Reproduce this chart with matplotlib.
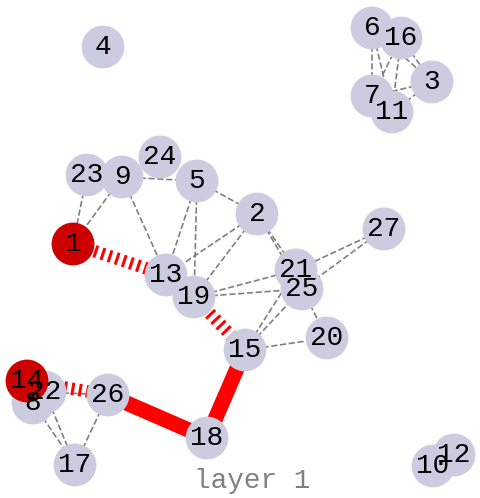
import matplotlib
matplotlib.use("Agg")
import matplotlib.pyplot as plt

# node layout (pixel positions)
nodes = ["4", "6", "16", "3", "7", "11", "23", "9", "24", "5", "2", "27", "1",
         "13", "19", "21", "25", "20", "15", "8", "22", "14", "26", "18", "17",
         "10", "12"]
node_x = [103, 372, 401, 432, 372, 392, 87, 122, 160, 197, 257, 384, 73,
          166, 194, 296, 302, 327, 245, 33, 45, 27, 108, 207, 75, 433, 454]
node_y = [47, 28, 38, 82, 96, 112, 175, 177, 157, 181, 214, 229, 244,
          275, 297, 270, 289, 338, 350, 403, 392, 381, 395, 438, 465, 466, 455]
red_nodes = ["1", "14"]

dashed_edges = [("6", "16"), ("6", "7"), ("6", "11"), ("6", "3"), ("16", "7"),
                ("16", "11"), ("16", "3"), ("3", "11"), ("3", "7"),
                ("23", "1"), ("9", "1"), ("9", "5"), ("9", "13"), ("5", "2"),
                ("5", "13"), ("5", "19"), ("2", "13"), ("2", "19"), ("2", "21"),
                ("2", "25"), ("19", "21"), ("19", "25"), ("27", "21"),
                ("27", "25"), ("15", "21"), ("15", "25"), ("15", "20"),
                ("25", "20"), ("22", "26"), ("8", "17"), ("22", "17"),
                ("26", "17")]
hatched_edges = [("1", "13"), ("19", "15"), ("14", "26")]
thick_edges = [("15", "18"), ("26", "18")]

pos = {n: (x, y) for n, x, y in zip(nodes, node_x, node_y)}

fig = plt.figure(figsize=(4.8, 4.98), dpi=100)
ax = fig.add_axes([0, 0, 1, 1])
ax.set_xlim(0, 480)
ax.set_ylim(498, 0)
ax.axis("off")

for a, b in dashed_edges:
    ax.plot([pos[a][0], pos[b][0]], [pos[a][1], pos[b][1]], color="gray",
            lw=1.2, ls="--", zorder=1)
for a, b in hatched_edges:
    ax.plot([pos[a][0], pos[b][0]], [pos[a][1], pos[b][1]], color="red",
            lw=9, ls=(0, (0.24, 0.36)), solid_capstyle="butt",
            dash_capstyle="butt", zorder=1)
for a, b in thick_edges:
    ax.plot([pos[a][0], pos[b][0]], [pos[a][1], pos[b][1]], color="red",
            lw=11, solid_capstyle="butt", zorder=1)

colors = ["#cc0000" if n in red_nodes else "#cccce0" for n in nodes]
ax.scatter(node_x, node_y, s=950, c=colors, edgecolors="none", zorder=2)

for n, x, y in zip(nodes, node_x, node_y):
    ax.text(x, y, n, ha="center", va="center", fontsize=20,
            family="Liberation Mono", zorder=3)

ax.text(252, 481, "layer 1", ha="center", va="center", fontsize=20,
        family="Liberation Mono", color="gray")

plt.savefig("out.png", dpi=100)
